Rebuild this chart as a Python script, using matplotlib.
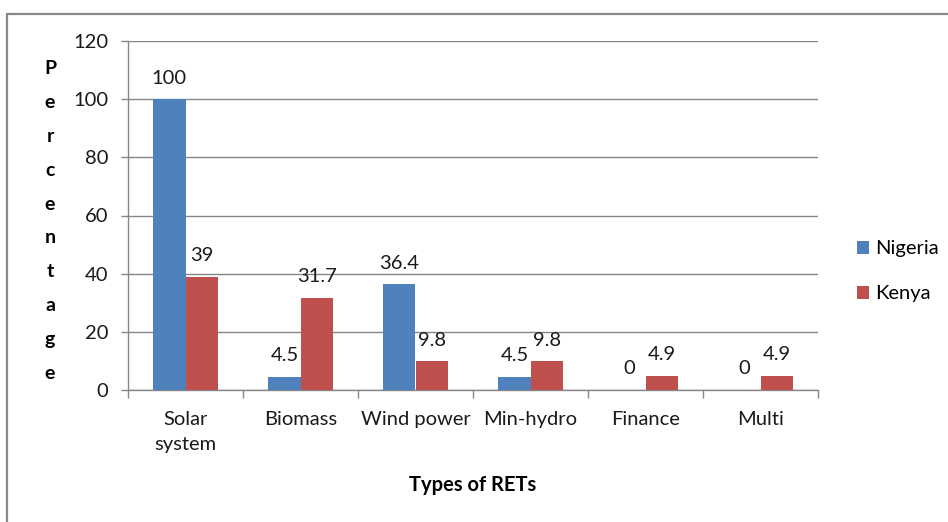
import numpy as np
import matplotlib.pyplot as plt
from matplotlib.patches import Rectangle
from matplotlib.ticker import FixedLocator

categories = ['Solar\nsystem', 'Biomass', 'Wind power', 'Min-hydro', 'Finance', 'Multi']
nigeria = [100, 4.5, 36.4, 4.5, 0, 0]
kenya = [39, 31.7, 9.8, 9.8, 4.9, 4.9]
nigeria_labels = ['100', '4.5', '36.4', '4.5', '0', '0']
kenya_labels = ['39', '31.7', '9.8', '9.8', '4.9', '4.9']
y_ticks = [0, 20, 40, 60, 80, 100, 120]

plt.rcParams['font.family'] = ['Lato', 'DejaVu Sans']

blue = '#4F81BD'
red = '#C0504D'
grid_c = '#868686'
fs = 14.5

fig = plt.figure(figsize=(9.48, 5.22), dpi=100)
ax = fig.add_axes([128 / 948, 132 / 522, 690 / 948, 349 / 522])

x = np.arange(len(categories))
w = 0.28
b1 = ax.bar(x - w / 2, nigeria, w, color=blue, label='Nigeria', zorder=3)
b2 = ax.bar(x + w / 2, kenya, w, color=red, label='Kenya', zorder=3)

for bars, labels in [(b1, nigeria_labels), (b2, kenya_labels)]:
    for rect, lab in zip(bars, labels):
        ax.annotate(lab, (rect.get_x() + rect.get_width() / 2, rect.get_height()),
                    xytext=(0, 9), textcoords='offset points',
                    ha='center', va='bottom', fontsize=fs, color='#1a1a1a')

ax.set_xlim(-0.5, len(categories) - 0.5)
ax.set_ylim(0, 120)
ax.set_yticks(y_ticks)
ax.yaxis.grid(True, color=grid_c, linewidth=1)
ax.set_axisbelow(True)

ax.set_xticks(x)
ax.set_xticklabels(categories, fontsize=fs, color='#1a1a1a', linespacing=1.6)
ax.xaxis.set_minor_locator(FixedLocator(np.arange(-0.5, len(categories), 1)))
ax.tick_params(axis='x', which='major', length=0, pad=15)
ax.tick_params(axis='x', which='minor', length=6, color=grid_c, width=1)
ax.tick_params(axis='y', length=5, color=grid_c, width=1, pad=9,
               labelsize=fs, labelcolor='#1a1a1a')

for s in ['top', 'right']:
    ax.spines[s].set_visible(False)
for s in ['left', 'bottom']:
    ax.spines[s].set_color(grid_c)
    ax.spines[s].set_linewidth(1)

ax.set_xlabel('Types of RETs', fontsize=fs, fontweight='bold', labelpad=16)

fig.text(50 / 948, 1 - 221 / 522, '\n'.join('Percentage'), ha='center', va='center',
         fontsize=14, fontweight='bold', linespacing=2.2)

ax.legend(loc='center left', bbox_to_anchor=(1.03, 0.34), frameon=False,
          fontsize=fs, handlelength=0.6, handleheight=0.6, handletextpad=0.3,
          labelspacing=1.4)

fig.add_artist(Rectangle((7 / 948, -0.2), 2, 1.2 - 14 / 522, transform=fig.transFigure,
                         fill=False, edgecolor='#888888', linewidth=1.6))

fig.savefig('out.png', dpi=100)
